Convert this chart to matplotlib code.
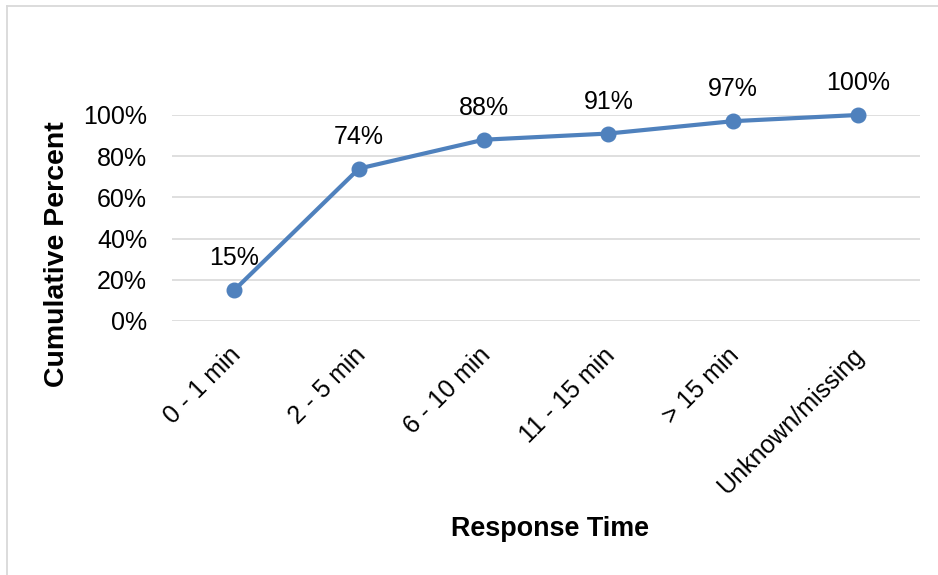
import matplotlib
matplotlib.use("Agg")
import matplotlib.pyplot as plt
from matplotlib.lines import Line2D

# Cumulative share of responses by response-time band
categories = ["0 - 1 min", "2 - 5 min", "6 - 10 min", "11 - 15 min", "> 15 min", "Unknown/missing"]
cumulative_pct = [15, 74, 88, 91, 97, 100]
y_ticks = [0, 20, 40, 60, 80, 100]

FONT = "Liberation Sans"
LINE_BLUE = "#4F81BD"
GRID_GRAY = "#D9D9D9"

W, H, DPI = 938, 575, 100
fig = plt.figure(figsize=(W / DPI, H / DPI), dpi=DPI)
fig.patch.set_facecolor("white")

# Plot area in pixel terms
left_px, right_px, top_px, bottom_px = 172, 920, 115, 321
ax = fig.add_axes([left_px / W, 1 - bottom_px / H,
                   (right_px - left_px) / W, (bottom_px - top_px) / H])

x = list(range(len(categories)))
ax.plot(x, cumulative_pct, color=LINE_BLUE, linewidth=3.0,
        marker="o", markersize=10.5, clip_on=False, zorder=3,
        solid_capstyle="round")

ax.set_xlim(-0.5, len(categories) - 0.5)
ax.set_ylim(0, 100)
ax.set_yticks(y_ticks)
ax.set_yticklabels([f"{v}%" for v in y_ticks], fontfamily=FONT, fontsize=18)
ax.tick_params(axis="y", length=0, pad=18)
ax.set_xticks([])
ax.grid(axis="y", color=GRID_GRAY, linewidth=1.2, zorder=0)
ax.set_axisbelow(True)
for s in ax.spines.values():
    s.set_visible(False)

# Value labels above the markers
for xi, v in zip(x, cumulative_pct):
    ax.annotate(f"{v}%", xy=(xi, v), xytext=(0, 23), textcoords="offset points",
                ha="center", va="center", fontfamily=FONT, fontsize=18,
                color="#000000", annotation_clip=False)

# Slanted category labels
for xi, lab in zip(x, categories):
    ax.annotate(lab, xy=(xi, 0), xycoords=("data", "axes fraction"),
                xytext=(2, -22), textcoords="offset points",
                rotation=45, rotation_mode="anchor", ha="right", va="center",
                fontfamily=FONT, fontsize=18, color="#000000",
                annotation_clip=False)

# Axis titles
fig.text(550 / W, 1 - 529 / H, "Response Time", ha="center", va="center",
         fontfamily=FONT, fontweight="bold", fontsize=19.4)
fig.text(56.5 / W, 1 - 254 / H, "Cumulative Percent", ha="center", va="center",
         rotation=90, fontfamily=FONT, fontweight="bold", fontsize=20.5)

# Chart frame
fig.add_artist(Line2D([7 / W, 7 / W], [0, 1 - 6 / H], transform=fig.transFigure,
                      color=GRID_GRAY, linewidth=1.3))
fig.add_artist(Line2D([7 / W, 1], [1 - 6 / H, 1 - 6 / H], transform=fig.transFigure,
                      color=GRID_GRAY, linewidth=1.3))

fig.savefig("out.png", dpi=DPI)
